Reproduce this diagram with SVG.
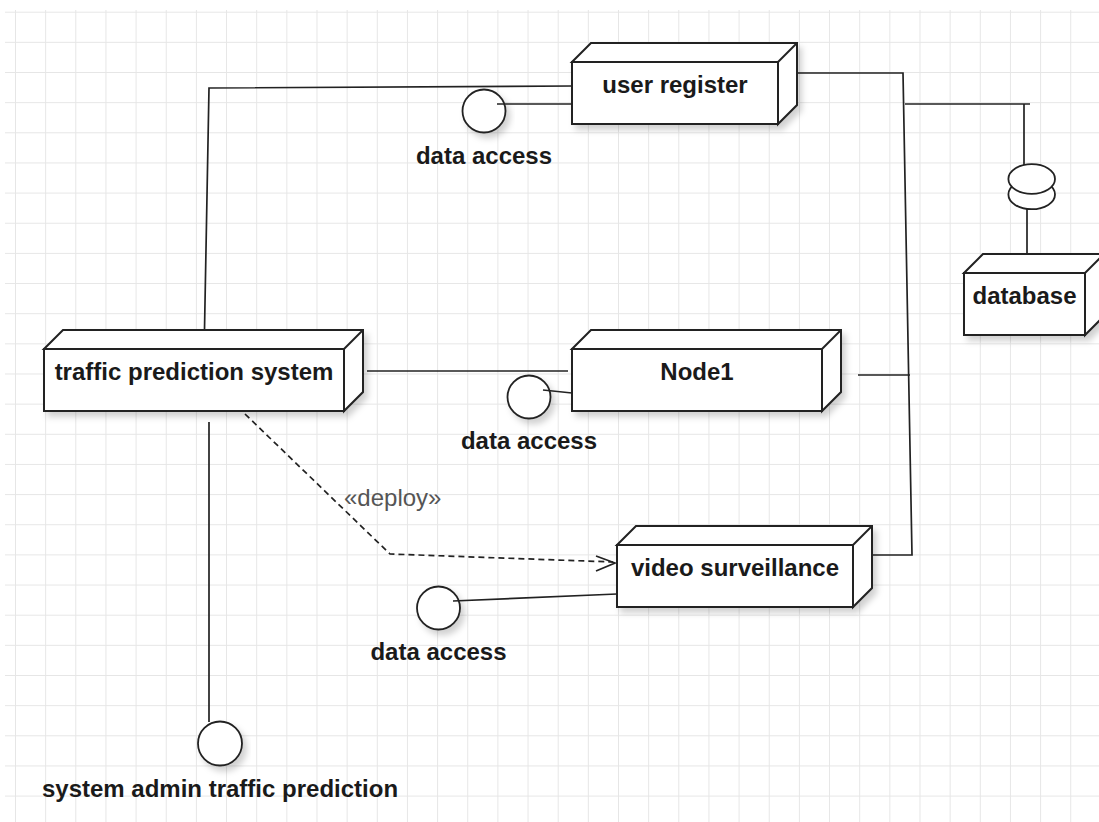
<svg xmlns="http://www.w3.org/2000/svg" width="1099" height="822" viewBox="0 0 1099 822">
<defs>
<pattern id="grid" patternUnits="userSpaceOnUse" x="15" y="11.7" width="30.15" height="30.15">
<path d="M0.5,0 V30.15 M0,0.5 H30.15" fill="none" stroke="#e6e6e6" stroke-width="1"/>
</pattern>
<filter id="sh" x="-10%" y="-20%" width="130%" height="160%">
<feDropShadow dx="4" dy="5" stdDeviation="3" flood-color="#000" flood-opacity="0.18"/>
</filter>
</defs>
<style>
.node{fill:#fff;stroke:#222;stroke-width:2;stroke-linejoin:miter}
.lbl{font-family:"Liberation Sans",Arial,sans-serif;font-weight:bold;font-size:24px;fill:#1a1a1a;text-anchor:middle}
.con{fill:none;stroke:#222;stroke-width:1.7}
.lol{fill:#fff;stroke:#222;stroke-width:1.8}
.dep{fill:none;stroke:#222;stroke-width:1.7;stroke-dasharray:6 4}
</style>
<rect x="0" y="0" width="1099" height="822" fill="#fff"/>
<rect x="5" y="10" width="1094" height="812" fill="url(#grid)"/>

<g id="connectors">
<path class="con" d="M204.5,330 L209,88 L572,86"/>
<path class="con" d="M797,73 H903 L912,555 H872"/>
<path class="con" d="M858,375 H910"/>
<path class="con" d="M905,104 H1030"/>
<path class="con" d="M1024,104 V165"/>
<path class="con" d="M1027,209 V255"/>
<path class="con" d="M367,371 H568"/>
<path class="con" d="M209,422 V722"/>
<path class="dep" d="M245,414 L390,554 L613,562"/>
<path class="con" d="M596,556 L615,563 L596,571"/>
<text x="344" y="506" font-family="Liberation Sans, Arial, sans-serif" font-size="24" fill="#555">«deploy»</text>
</g>

<g id="db-socket">
<ellipse class="lol" cx="1031.7" cy="194.5" rx="23.3" ry="14.7"/>
<ellipse class="lol" cx="1031.7" cy="179" rx="23.3" ry="14.8"/>
</g>

<g id="user-register">
<g filter="url(#sh)">
<rect class="node" x="572" y="62" width="206" height="62"/>
<path class="node" d="M572,62 L591,43 H797 V105 L778,124 V62 Z"/>
<path class="node" d="M778,62 L797,43" fill="none"/>
</g>
<text class="lbl" x="675" y="93">user register</text>
</g>

<g id="traffic-prediction-system">
<g filter="url(#sh)">
<rect class="node" x="44" y="349" width="300" height="62"/>
<path class="node" d="M44,349 L63,330 H363 V392 L344,411 V349 Z"/>
<path class="node" d="M344,349 L363,330" fill="none"/>
</g>
<text class="lbl" x="194" y="380">traffic prediction system</text>
</g>

<g id="node1">
<g filter="url(#sh)">
<rect class="node" x="572" y="349" width="250" height="62"/>
<path class="node" d="M572,349 L591,330 H841 V392 L822,411 V349 Z"/>
<path class="node" d="M822,349 L841,330" fill="none"/>
</g>
<text class="lbl" x="697" y="380">Node1</text>
</g>

<g id="video-surveillance">
<g filter="url(#sh)">
<rect class="node" x="617" y="545" width="236" height="62"/>
<path class="node" d="M617,545 L636,526 H872 V588 L853,607 V545 Z"/>
<path class="node" d="M853,545 L872,526" fill="none"/>
</g>
<text class="lbl" x="735" y="576">video surveillance</text>
</g>

<g id="database">
<g filter="url(#sh)">
<rect class="node" x="964" y="273" width="121" height="62"/>
<path class="node" d="M964,273 L983,254 H1104 V316 L1085,335 V273 Z"/>
<path class="node" d="M1085,273 L1104,254" fill="none"/>
</g>
<text class="lbl" x="1024.5" y="304">database</text>
</g>

<g id="iface-user-register">
<circle class="lol" cx="484" cy="111" r="21.5" filter="url(#sh)"/>
<path class="con" d="M497,104 H572"/>
<text class="lbl" x="484" y="164">data access</text>
</g>

<g id="iface-node1">
<circle class="lol" cx="529" cy="397" r="21.5" filter="url(#sh)"/>
<path class="con" d="M543,390 L572,393"/>
<text class="lbl" x="529" y="449">data access</text>
</g>

<g id="iface-video">
<circle class="lol" cx="438.5" cy="608" r="21.5" filter="url(#sh)"/>
<path class="con" d="M453,601 L617,594"/>
<text class="lbl" x="438.5" y="660">data access</text>
</g>

<g id="iface-admin">
<circle class="lol" cx="220" cy="743.5" r="22" filter="url(#sh)"/>
<text class="lbl" x="220" y="797">system admin traffic prediction</text>
</g>
</svg>
